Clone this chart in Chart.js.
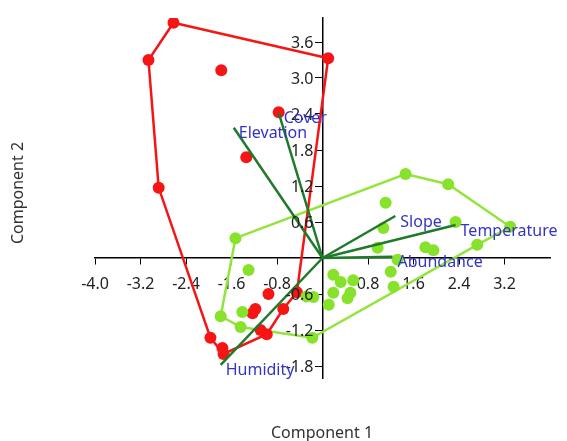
<!DOCTYPE html>
<html>
<head>
<meta charset="utf-8">
<script src="https://cdn.jsdelivr.net/npm/chart.js@4/dist/chart.umd.min.js"></script>
<style>
  html, body { margin: 0; padding: 0; background: #fff; }
  #caja { width: 567px; height: 441px; }
</style>
</head>
<body>
<div id="caja"><canvas id="grafica"></canvas></div>
<script>
// ===============================
// DATOS
// ===============================

const redX = [-2.62, -3.06, 0.10, -2.88, -1.97, -1.76, -0.45, -0.69, -0.98, -1.78, -1.34, -0.77, -0.95, -1.18, -1.23, -1.09, -1.74];
const redY = [3.92, 3.30, 3.33, 1.17, -1.33, -1.50, -0.57, -0.85, -1.27, 3.13, 1.68, 2.43, -0.60, -0.85, -0.92, -1.20, -1.60];
const redHull = [0, 2, 6, 7, 8, 16, 4, 3, 1, 0];

const greenX = [-1.53, 1.46, 2.21, 3.30, 2.72, -0.18, -1.44, -1.79, -1.30, -1.41, -0.16, -0.28, 0.19, 0.32, 0.54, 0.49, 0.44, 0.19, 0.11, 1.20, 1.25, 0.97, 1.07, 1.11, 1.81, 1.95, 2.34, 1.32];
const greenY = [0.33, 1.40, 1.23, 0.52, 0.22, -1.33, -1.15, -0.97, -0.20, -0.90, -0.65, -0.64, -0.28, -0.40, -0.37, -0.58, -0.67, -0.58, -0.78, -0.23, -0.48, 0.17, 0.50, 0.92, 0.18, 0.13, 0.60, -0.03];
const greenHull = [0, 1, 2, 3, 4, 5, 6, 7, 0];

const vectorNames = ["Cover", "Elevation", "Slope", "Temperature", "Abundance", "Humidity"];
const vectorX = [-0.77, -1.56, 1.28, 2.34, 1.23, -1.79];
const vectorY = [2.42, 2.17, 0.70, 0.55, 0.02, -1.78];

const xTicks = [-4.0, -3.2, -2.4, -1.6, -0.8, 0.8, 1.6, 2.4, 3.2];
const yTicks = [-1.8, -1.2, -0.6, 0.6, 1.2, 1.8, 2.4, 3.0, 3.6];

const xTitle = "Component 1";
const yTitle = "Component 2";

// ===============================
// COLORES Y FUENTE
// ===============================

const rojo = "#f51515";
const verdeClaro = "#86e22a";
const verdeHull = "#93e43c";
const verdeOscuro = "#1f7a2a";
const azul = "#3434c4";
const fuente = "'Noto Sans', 'Open Sans', sans-serif";

// ===============================
// ARMAR DATASETS
// ===============================

function puntos(xs, ys) {
  return xs.map(function (x, i) {
    return { x: x, y: ys[i] };
  });
}

function contorno(xs, ys, indices) {
  return indices.map(function (i) {
    return { x: xs[i], y: ys[i] };
  });
}

const datasets = [];

datasets.push({
  data: contorno(redX, redY, redHull),
  showLine: true, borderColor: rojo, borderWidth: 2.5,
  pointRadius: 0, order: 3
});

datasets.push({
  data: contorno(greenX, greenY, greenHull),
  showLine: true, borderColor: verdeHull, borderWidth: 2.5,
  pointRadius: 0, order: 3
});

datasets.push({
  data: puntos(greenX, greenY),
  pointRadius: 6, pointBackgroundColor: verdeClaro, pointBorderWidth: 0,
  order: 2
});

datasets.push({
  data: puntos(redX, redY),
  pointRadius: 6, pointBackgroundColor: rojo, pointBorderWidth: 0,
  order: 2
});

vectorNames.forEach(function (nombre, i) {
  datasets.push({
    data: [{ x: 0, y: 0 }, { x: vectorX[i], y: vectorY[i] }],
    showLine: true, borderColor: verdeOscuro, borderWidth: 2.5,
    pointRadius: 0, order: 1
  });
});

// ===============================
// TEXTOS EXTRA (ticks del eje Y, titulos y vectores)
// ===============================

function formatoTick(valor) {
  return valor === 0 ? "" : valor.toFixed(1);
}

const textosExtra = {
  id: "textosExtra",
  afterDraw: function (chart) {
    const ctx = chart.ctx;
    const sx = chart.scales.x;
    const sy = chart.scales.y;
    const origenX = sx.getPixelForValue(0);

    ctx.save();
    ctx.font = "16px " + fuente;
    ctx.textBaseline = "middle";

    // etiquetas del eje Y, a la izquierda del eje
    ctx.fillStyle = "#222";
    ctx.textAlign = "right";
    yTicks.forEach(function (v) {
      ctx.fillText(formatoTick(v), origenX - 9, sy.getPixelForValue(v) + 1);
    });

    // nombres de los vectores
    ctx.fillStyle = azul;
    ctx.textAlign = "left";
    vectorNames.forEach(function (nombre, i) {
      const px = sx.getPixelForValue(vectorX[i]);
      const py = sy.getPixelForValue(vectorY[i]);
      ctx.fillText(nombre, px + 5, py + 6);
    });

    // titulos
    ctx.fillStyle = "#333";
    ctx.textAlign = "center";
    ctx.fillText(xTitle, 322, 433);

    ctx.translate(18, 193);
    ctx.rotate(-Math.PI / 2);
    ctx.fillText(yTitle, 0, 0);
    ctx.restore();
  }
};

// ===============================
// GRAFICA
// ===============================

const ctx = document.getElementById("grafica").getContext("2d");

new Chart(ctx, {
  type: "scatter",
  data: { datasets: datasets },
  options: {
    responsive: true,
    maintainAspectRatio: false,
    animation: false,
    layout: { padding: { left: 95, right: 17, top: 18, bottom: 63 } },
    plugins: { legend: { display: false }, tooltip: { enabled: false } },
    scales: {
      x: {
        type: "linear", min: -4, max: 4,
        position: { y: 0 },
        border: { display: true, color: "#000", width: 1.5 },
        grid: { display: true, drawOnChartArea: false, drawTicks: true, tickLength: 6, color: "#000" },
        ticks: {
          color: "#222", font: { family: fuente, size: 16 }, padding: 11,
          autoSkip: false, maxRotation: 0,
          callback: formatoTick
        },
        afterBuildTicks: function (escala) {
          escala.ticks = xTicks.map(function (v) { return { value: v }; });
        }
      },
      y: {
        type: "linear", min: -2, max: 4,
        position: { x: 0 },
        border: { display: true, color: "#000", width: 1.5 },
        grid: { display: true, drawOnChartArea: false, drawTicks: true, tickLength: 7, color: "#000" },
        ticks: { display: false },
        afterBuildTicks: function (escala) {
          escala.ticks = yTicks.map(function (v) { return { value: v }; });
        }
      }
    }
  },
  plugins: [textosExtra]
});
</script>
</body>
</html>
